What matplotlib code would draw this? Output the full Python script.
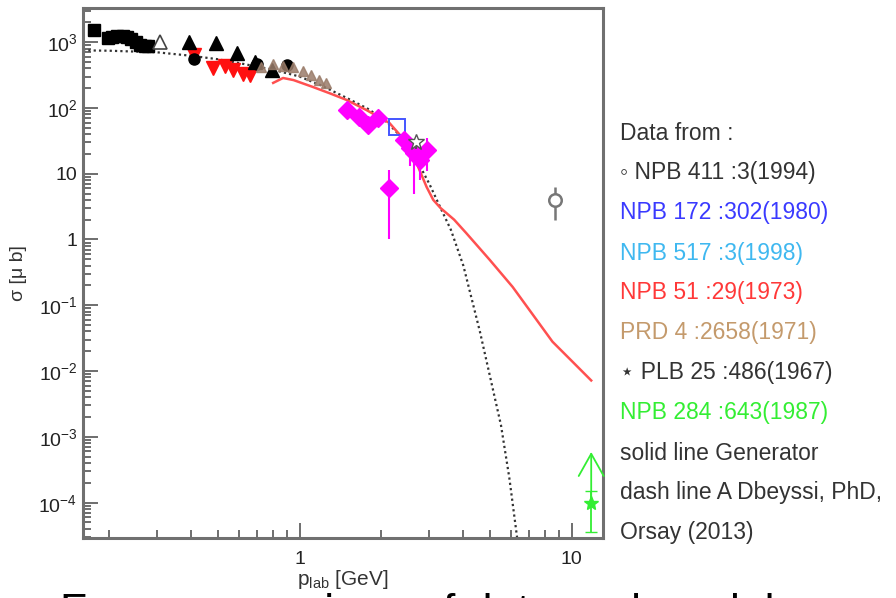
import numpy as np
import matplotlib
matplotlib.use("Agg")
from matplotlib import pyplot as plt
from matplotlib.ticker import LogLocator, FixedLocator, NullFormatter, FuncFormatter

plt.rcParams['font.family'] = ['Liberation Sans', 'DejaVu Sans']
plt.rcParams['mathtext.fontset'] = 'custom'
plt.rcParams['mathtext.rm'] = 'Liberation Sans'
plt.rcParams['mathtext.it'] = 'Liberation Sans:italic'

# black squares
sq_x = [0.176, 0.197, 0.205, 0.214, 0.224, 0.232, 0.240, 0.250, 0.260, 0.270, 0.278]
sq_y = [1550, 1150, 1180, 1230, 1250, 1200, 1100, 1000, 920, 880, 860]
# open triangle
otri_x = [0.306]
otri_y = [1000]
# black triangles up
tri_x = [0.394, 0.495, 0.587, 0.684, 0.789]
tri_y = [1000, 970, 680, 500, 380]
# black circles
circ_x = [0.41, 0.70, 0.90]
circ_y = [560, 470, 450]
# red triangles down (NPB 51)
red_x = [0.41, 0.48, 0.53, 0.57, 0.62, 0.66]
red_y = [640, 400, 440, 380, 330, 320]
# brown points (PRD 4)
brn_x = [0.72, 0.80, 0.87, 0.95, 1.03, 1.10, 1.18, 1.25]
brn_y = [420, 470, 440, 420, 370, 320, 270, 240]
# magenta diamonds
mag_x = [1.50, 1.65, 1.79, 1.95, 2.14, 2.43, 2.55, 2.64, 2.76, 2.93]
mag_y = [93, 73, 55, 70, 6.1, 33, 25, 21, 16, 23]
mag_lo = [10, 8, 6, 8, 5.1, 10, 12, 16, 8, 12]
mag_hi = [10, 8, 6, 8, 5.3, 10, 10, 8, 10, 12]
# blue open square (NPB 172)
blue_x = [2.29]
blue_y = [51.6]
# open star (PLB 25)
star_x = [2.69]
star_y = [30]
star_err = [6]
# open circle (NPB 411)
oc_x = [8.65]
oc_y = [4.0]
oc_lo = [2.0]
oc_hi = [2.3]
# green star (NPB 284) + upper limit
grn_x = [11.8]
grn_y = [1.0e-4]
grn_lo = [6.4e-5]
grn_hi = [5.0e-5]
grn_lim = [6.5e-4]

# solid line Generator
gen_x = [0.80, 0.87, 0.95, 1.12, 1.30, 1.49, 1.76, 2.14, 2.47, 2.69, 2.93, 3.10,
         3.30, 3.70, 4.10, 5.00, 6.07, 7.20, 8.50, 10.0, 11.8]
gen_y = [240, 285, 265, 208, 165, 132, 93, 59, 30, 14.6, 6.3, 4.0,
         3.0, 2.0, 1.25, 0.49, 0.19, 0.072, 0.028, 0.0143, 0.0072]
# dash line A Dbeyssi
dby_x = [0.16, 0.2, 0.3, 0.4, 0.5, 0.6, 0.8, 1.0, 1.2, 1.5, 1.8, 2.1, 2.4, 2.7,
         3.0, 3.3, 3.6, 4.0, 4.6, 5.1, 5.5, 5.9, 6.3]
dby_y = [750, 740, 700, 620, 550, 480, 380, 300, 220, 140, 95, 60, 34, 16,
         7, 3.0, 1.4, 0.4, 0.04, 6e-3, 1.5e-3, 2.4e-4, 3e-5]

legend_lines = [("Data from :", "#333333"),
                ("\u25e6 NPB 411 :3(1994)", "#333333"),
                ("NPB 172 :302(1980)", "#3a3aff"),
                ("NPB 517 :3(1998)", "#3fb8f0"),
                ("NPB 51 :29(1973)", "#ff3838"),
                ("PRD 4 :2658(1971)", "#c49a6c"),
                ("\u22c6 PLB 25 :486(1967)", "#333333"),
                ("NPB 284 :643(1987)", "#33ee33"),
                ("solid line Generator", "#333333"),
                ("dash line A Dbeyssi, PhD,", "#333333"),
                ("Orsay (2013)", "#333333")]

fig = plt.figure(figsize=(8.96, 5.98), dpi=100)
ax = fig.add_axes([0.0926, 0.1003, 0.580, 0.8863])
ax.set_xscale('log')
ax.set_yscale('log')
ax.set_xlim(0.16, 13)
ax.set_ylim(2.9e-5, 3300)

# curves
ax.plot(dby_x, dby_y, color='#333333', lw=1.6, ls=(0, (1, 1.4)), zorder=2)
ax.plot(gen_x, gen_y, color='#ff5050', lw=1.8, zorder=2)

# data points
ax.plot(sq_x, sq_y, 's', color='black', ms=9, zorder=3)
ax.plot(otri_x, otri_y, '^', mfc='white', mec='#444444', ms=10, mew=1.2, zorder=3)
ax.plot(red_x, red_y, 'v', color='#ff1010', ms=10, zorder=3)
ax.plot(tri_x, tri_y, '^', color='black', ms=10, zorder=3)
ax.plot(circ_x, circ_y, 'o', color='black', ms=8, zorder=3)
ax.plot(brn_x, brn_y, '^', color='#9a7c6a', ms=7, alpha=0.85, zorder=3)
ax.errorbar(mag_x, mag_y, yerr=[mag_lo, mag_hi], fmt='D', color='#ff00ff',
            ms=9, elinewidth=1.5, capsize=0, zorder=4)
ax.plot(blue_x, blue_y, 's', mfc='none', mec='#4455ff', ms=11, mew=1.4, zorder=4)
ax.errorbar(star_x, star_y, yerr=star_err, fmt='*', mfc='white', mec='#555555',
            ecolor='#555555', ms=12, capsize=0, zorder=5)
ax.errorbar(oc_x, oc_y, yerr=[oc_lo, oc_hi], fmt='o', mfc='white', mec='#777777',
            ecolor='#777777', ms=9, mew=1.8, elinewidth=1.8, capsize=0, zorder=4)
ax.errorbar(grn_x, grn_y, yerr=[grn_lo, grn_hi], fmt='*', color='#33ee33',
            ms=10, elinewidth=1.3, capsize=4, zorder=4)
ax.annotate('', xy=(grn_x[0], grn_lim[0]), xytext=(grn_x[0], grn_y[0]),
            arrowprops=dict(arrowstyle='->,head_length=1.6,head_width=0.9',
                            color='#33ee33', lw=1.3), zorder=4)

# ROOT-like frame and ticks
for side in ['left', 'bottom', 'right', 'top']:
    ax.spines[side].set_color('#707070')
    ax.spines[side].set_linewidth(2.2)
ax.tick_params(which='both', direction='in', colors='#555555', width=1.2,
               top=False, right=False, labelcolor='#222222', labelsize=14)
ax.tick_params(which='major', length=11)
ax.tick_params(which='minor', length=6)
ax.tick_params(axis='y', pad=4)
ax.tick_params(axis='x', pad=9)

ax.yaxis.set_major_locator(FixedLocator([1e-4, 1e-3, 1e-2, 1e-1, 1, 10, 100, 1000]))
ax.yaxis.set_minor_locator(LogLocator(base=10, subs=np.arange(2, 10), numticks=20))
ax.yaxis.set_minor_formatter(NullFormatter())


def yfmt(v, pos):
    e = int(round(np.log10(v)))
    if e == 0:
        return '1'
    if e == 1:
        return '10'
    return '$10^{%d}$' % e


ax.yaxis.set_major_formatter(FuncFormatter(yfmt))
ax.xaxis.set_major_locator(FixedLocator([1, 10]))
ax.xaxis.set_major_formatter(FuncFormatter(lambda v, p: '%d' % v))
ax.xaxis.set_minor_locator(LogLocator(base=10, subs=np.arange(2, 10), numticks=20))
ax.xaxis.set_minor_formatter(NullFormatter())

ax.set_ylabel('\u03c3 [\u03bc b]', fontsize=14, color='#333333', labelpad=8)
ax.set_xlabel('p$_{\\mathregular{lab}}$ [GeV]', fontsize=15, color='#333333', labelpad=0)

# text panel on the right
for i, (txt, col) in enumerate(legend_lines):
    ypx = 133 + 40 * i
    fig.text(620 / 896, 1 - ypx / 598, txt, color=col, fontsize=16.5, va='center', ha='left',
             family=['Liberation Sans', 'DejaVu Sans'])

# slide caption below, mostly cut off by the image edge
fig.text(60 / 896, -27 / 598, "From comparison of data and model", fontsize=32,
         color='black', ha='left', va='baseline')

fig.savefig('out.png', dpi=100)
